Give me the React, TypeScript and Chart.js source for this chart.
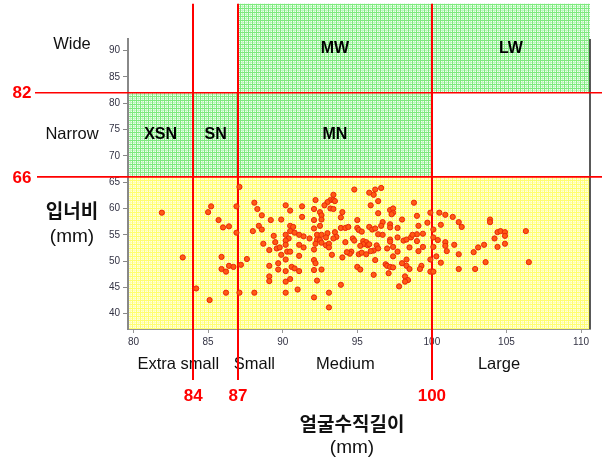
import React, { useEffect, useRef } from 'react';
import { Chart, registerables } from 'chart.js';
Chart.register(...registerables);

// 얼굴수직길이 (mm)
const faceLength = [
  81.9, 83.3, 87.1, 85.2, 85.0, 86.9, 85.7, 86.0, 86.4, 86.9, 87.6, 85.9, 85.9, 86.2, 86.4, 86.7, 87.2, 84.2, 86.2, 87.1, 85.1,
  93.4, 93.2, 93.4, 93.0, 93.5, 92.8, 93.2, 93.4, 92.2, 91.3, 90.2, 90.5, 88.1, 88.3, 88.6, 89.2, 89.9, 92.1, 92.5, 92.6,
  92.6, 91.3, 92.1, 88.0, 88.4, 88.6, 90.5, 90.7, 90.5, 90.2, 90.8, 91.1, 91.4, 91.8, 92.1, 92.5, 92.3, 92.6, 93.0, 93.5,
  93.6, 93.4, 92.9, 92.3, 92.5, 90.4, 90.2, 89.4, 89.5, 88.7, 89.1, 89.6, 89.8, 90.2, 91.1, 91.4, 92.2, 92.6, 92.9, 93.1,
  93.1, 90.3, 90.5, 89.9, 91.1, 92.1, 93.3, 90.2, 92.1, 92.2, 89.7, 89.1, 90.6, 90.8, 91.1, 92.6, 89.7, 90.2, 92.1, 89.1,
  89.1, 90.5, 90.2, 92.3, 88.1, 90.2, 91.0, 93.1, 92.1, 93.1,
  94.8, 95.8, 96.1, 96.2, 96.6, 96.4, 95.9, 98.8, 97.2, 97.4, 97.4, 97.3, 96.4, 94.0, 93.9, 99.0, 99.9, 100.5, 95.0, 98.0,
  96.7, 97.2, 97.2, 96.6, 99.7, 93.9, 94.2, 94.4, 95.0, 95.1, 95.3, 95.8, 96.0, 96.2, 96.4, 96.7, 97.7, 99.1, 99.4, 99.0,
  100.1, 100.4, 94.7, 94.8, 94.2, 95.4, 95.6, 95.4, 95.7, 95.2, 95.8, 96.3, 96.4, 96.1, 95.9, 97.0, 97.4, 97.2, 97.2, 97.7,
  98.1, 98.3, 98.6, 98.7, 99.0, 98.5, 99.1, 99.4, 100.1, 100.1, 94.6, 94.5, 94.3, 94.0, 95.1, 95.3, 95.6, 96.2, 97.4, 97.7,
  96.9, 97.0, 97.2, 97.4, 98.0, 98.3, 98.3, 98.5, 99.3, 99.2, 99.9, 100.3, 99.9, 100.1, 95.0, 95.2, 97.1, 96.1, 98.2, 98.4,
  98.2, 97.8, 93.9,
  100.9, 101.4, 101.8, 102.0, 100.6, 103.9, 103.9, 104.4, 104.6, 104.9, 104.9, 104.2, 106.3, 100.9, 100.9, 101.0, 101.5,
  101.8, 103.5, 103.1, 102.8, 104.4, 104.9, 101.8, 102.9, 103.6, 106.5, 100.6,
];

// 입너비 (mm)
const faceWidth = [
  59.2, 50.7, 64.1, 60.4, 59.3, 60.4, 57.8, 56.4, 56.6, 55.4, 50.4, 50.8, 48.5, 48.0, 49.1, 48.9, 49.3, 44.8, 44.0, 44.0, 42.6,
  62.6, 61.6, 61.6, 61.2, 61.4, 60.6, 60.0, 59.9, 61.6, 60.4, 60.6, 59.6, 61.1, 59.9, 58.7, 57.8, 57.9, 59.9, 59.3, 58.7,
  57.9, 58.4, 57.8, 55.7, 56.7, 56.0, 56.7, 56.5, 55.7, 55.0, 55.4, 55.0, 54.7, 54.3, 56.2, 56.7, 55.0, 55.0, 55.3, 55.5,
  54.6, 54.3, 54.5, 54.1, 54.0, 54.3, 53.9, 54.8, 53.6, 53.3, 52.1, 52.4, 52.6, 53.1, 53.1, 52.6, 53.3, 53.5, 53.0, 53.3,
  52.6, 51.8, 51.8, 51.2, 51.0, 52.2, 51.2, 50.3, 50.2, 49.6, 49.6, 49.1, 48.9, 48.6, 48.1, 48.4, 48.4, 48.1, 48.3, 47.1,
  46.2, 46.6, 46.1, 46.3, 44.0, 44.0, 44.6, 44.0, 43.1, 41.2,
  63.6, 63.0, 62.6, 63.6, 63.9, 61.4, 60.6, 61.1, 59.7, 60.0, 59.2, 58.9, 59.1, 59.3, 58.3, 58.6, 59.2, 59.2, 57.8, 57.9,
  57.4, 57.0, 56.4, 56.7, 57.3, 56.3, 56.3, 56.5, 56.3, 55.9, 55.6, 56.5, 56.0, 56.2, 55.1, 55.0, 56.3, 56.7, 55.2, 55.1,
  56.0, 54.0, 54.3, 53.9, 53.6, 53.8, 53.6, 53.2, 53.0, 52.9, 53.2, 53.0, 52.4, 52.0, 51.9, 52.4, 52.7, 54.1, 53.7, 54.5,
  53.9, 54.1, 54.5, 55.0, 53.8, 52.6, 51.9, 52.7, 54.5, 52.7, 51.8, 51.4, 51.7, 50.7, 51.3, 51.6, 51.3, 50.2, 50.9, 51.8,
  49.4, 49.1, 48.9, 48.8, 49.6, 50.3, 49.1, 48.5, 49.1, 48.5, 50.3, 50.9, 48.0, 48.0, 48.9, 48.4, 47.7, 47.4, 47.1, 46.4,
  46.1, 45.2, 45.5,
  58.8, 58.4, 57.4, 56.5, 56.9, 57.9, 57.4, 55.5, 55.7, 55.5, 54.8, 54.3, 55.7, 53.6, 52.9, 51.9, 53.1,
  51.3, 53.1, 52.6, 51.7, 52.7, 53.3, 48.5, 48.5, 49.8, 49.8, 49.7,
];

const xTickValues = [80, 85, 90, 95, 100, 105, 110];
const yTickValues = [40, 45, 50, 55, 60, 65, 70, 75, 80, 85, 90];

const lengthBreaks = [84, 87, 100];
const widthBreaks = [66, 82];

const sizeNames = ['Extra small', 'Small', 'Medium', 'Large'];
const sizeNameAt = [83.0, 88.1, 94.2, 104.5];

const widthNames = ['Wide', 'Narrow'];
const widthNameAt = [91.2, 74];

const zoneNames = ['XSN', 'SN', 'MN', 'MW', 'LW'];
// [x from, x to, y from, y to]; null = edge of the drawing
const zoneSpans: (number | null)[][] = [
  [null, 84, 66, 82],
  [84, 87, 66, 82],
  [87, 100, 66, 82],
  [87, 100, 82, null],
  [100, null, 82, null],
];

const X_MIN = 79.63;
const X_MAX = 110.6;
const Y_MIN = 37.1;
const Y_MAX = 92.2;
const ZONE_TOP = 98.9;

const SANS = '"Liberation Sans", Arial, sans-serif';
const KR = '"Noto Sans CJK KR", sans-serif';

function makePattern(ctx: CanvasRenderingContext2D, bg: string, line: string, line2: string) {
  const c = document.createElement('canvas');
  c.width = 4;
  c.height = 4;
  const g = c.getContext('2d')!;
  g.fillStyle = bg;
  g.fillRect(0, 0, 4, 4);
  g.fillStyle = line2;
  g.fillRect(0, 2, 4, 1);
  g.fillRect(2, 0, 1, 4);
  g.fillStyle = line;
  g.fillRect(0, 0, 4, 1);
  g.fillRect(0, 0, 1, 4);
  return ctx.createPattern(c, 'repeat')!;
}

export default function App() {
  const ref = useRef<HTMLCanvasElement>(null);

  useEffect(() => {
    const canvas = ref.current!;
    const ctx0 = canvas.getContext('2d')!;
    const green = makePattern(ctx0, '#effff0', '#7eea7e', '#bff6bf');
    const yellow = makePattern(ctx0, '#ffffe2', '#ffff6e', '#ffffb0');

    const plugin = {
      id: 'zones',
      beforeDraw(chart: any) {
        const { ctx, chartArea: a, scales } = chart;
        const x = scales.x, y = scales.y;
        ctx.save();
        const y66 = y.getPixelForValue(widthBreaks[0]);
        ctx.fillStyle = yellow;
        ctx.fillRect(a.left, y66, a.right - a.left, a.bottom - y66);
        ctx.fillStyle = green;
        zoneSpans.forEach((s) => {
          const x0 = x.getPixelForValue(s[0] ?? X_MIN);
          const x1 = x.getPixelForValue(s[1] ?? X_MAX);
          const y0 = y.getPixelForValue(s[2] ?? Y_MIN);
          const y1 = y.getPixelForValue(s[3] ?? ZONE_TOP);
          ctx.fillRect(x0, y1, x1 - x0, y0 - y1);
        });
        ctx.restore();
      },
      beforeDatasetsDraw(chart: any) {
        const { ctx, chartArea: a, scales } = chart;
        const x = scales.x, y = scales.y;
        ctx.save();
        // right frame
        ctx.strokeStyle = '#222';
        ctx.lineWidth = 1.5;
        ctx.beginPath();
        ctx.moveTo(a.right, a.top);
        ctx.lineTo(a.right, a.bottom);
        ctx.stroke();
        // size names
        ctx.fillStyle = '#111';
        ctx.font = `16.5px ${SANS}`;
        ctx.textAlign = 'center';
        ctx.textBaseline = 'middle';
        sizeNames.forEach((n, i) => ctx.fillText(n, x.getPixelForValue(sizeNameAt[i]), a.bottom + 35));
        // red lines
        ctx.strokeStyle = '#ff0000';
        ctx.lineWidth = 2;
        const top = y.getPixelForValue(ZONE_TOP);
        lengthBreaks.forEach((v) => {
          const p = Math.round(x.getPixelForValue(v));
          ctx.beginPath();
          ctx.moveTo(p, top);
          ctx.lineTo(p, a.bottom + 51);
          ctx.stroke();
        });
        ctx.lineWidth = 1.6;
        widthBreaks.forEach((v, i) => {
          const p = y.getPixelForValue(v);
          ctx.beginPath();
          ctx.moveTo(i === 0 ? 37 : 35, p);
          ctx.lineTo(chart.width, p);
          ctx.stroke();
        });
        ctx.restore();
      },
      afterDraw(chart: any) {
        const { ctx, chartArea: a, scales } = chart;
        const x = scales.x, y = scales.y;
        ctx.save();
        ctx.textAlign = 'center';
        ctx.textBaseline = 'middle';
        // zone names
        ctx.fillStyle = '#000';
        ctx.font = `bold 16px ${SANS}`;
        zoneSpans.forEach((s, i) => {
          const x0 = x.getPixelForValue(s[0] ?? X_MIN);
          const x1 = x.getPixelForValue(s[1] ?? X_MAX);
          const y0 = y.getPixelForValue(s[2] ?? Y_MIN);
          const y1 = y.getPixelForValue(s[3] ?? ZONE_TOP);
          ctx.fillText(zoneNames[i], (x0 + x1) / 2, (y0 + y1) / 2);
        });
        // width names
        ctx.fillStyle = '#111';
        ctx.font = `16.5px ${SANS}`;
        widthNames.forEach((n, i) => ctx.fillText(n, 72, y.getPixelForValue(widthNameAt[i])));
        // break labels
        ctx.fillStyle = '#ff0000';
        ctx.font = `bold 17px ${SANS}`;
        widthBreaks.forEach((v) => ctx.fillText(String(v), 22, y.getPixelForValue(v) + 1));
        lengthBreaks.forEach((v) => ctx.fillText(String(v), x.getPixelForValue(v), a.bottom + 67));
        // axis titles
        ctx.fillStyle = '#111';
        ctx.font = `bold 19px ${KR}`;
        ctx.fillText('입너비', 72, 211);
        ctx.fillText('얼굴수직길이', 352, a.bottom + 95);
        ctx.font = `19px ${SANS}`;
        ctx.fillText('(mm)', 72, 237);
        ctx.fillText('(mm)', 352, a.bottom + 119);
        ctx.restore();
      },
    };

    const chart = new Chart(canvas, {
      type: 'scatter',
      data: {
        datasets: [
          {
            data: faceLength.map((v, i) => ({ x: v, y: faceWidth[i] })),
            backgroundColor: '#ff5a14',
            borderColor: '#e8280a',
            borderWidth: 1,
            pointRadius: 2.6,
          },
        ],
      },
      options: {
        responsive: false,
        animation: false,
        devicePixelRatio: 1,
        layout: { padding: { left: 98, top: 39, right: 12, bottom: 109 } },
        plugins: { legend: { display: false }, tooltip: { enabled: false } },
        scales: {
          x: {
            type: 'linear',
            min: X_MIN,
            max: X_MAX,
            afterBuildTicks: (s: any) => {
              s.ticks = xTickValues.map((v) => ({ value: v }));
            },
            afterFit: (s: any) => {
              s.height = 24;
            },
            grid: { display: true, drawOnChartArea: false, drawTicks: true, tickLength: 4, color: '#999' },
            border: { display: true, color: '#999', width: 1 },
            ticks: { font: { family: SANS, size: 10 }, color: '#333344', padding: 3, maxRotation: 0, autoSkip: false },
          },
          y: {
            type: 'linear',
            min: Y_MIN,
            max: Y_MAX,
            afterBuildTicks: (s: any) => {
              s.ticks = yTickValues.map((v) => ({ value: v }));
            },
            afterFit: (s: any) => {
              s.width = 30;
            },
            grid: { display: true, drawOnChartArea: false, drawTicks: true, tickLength: 5, color: '#888' },
            border: { display: true, color: '#888', width: 2 },
            ticks: { font: { family: SANS, size: 10 }, color: '#333344', padding: 3, autoSkip: false },
          },
        },
      },
      plugins: [plugin],
    } as any);

    return () => chart.destroy();
  }, []);

  return (
    <div style={{ position: 'fixed', left: 0, top: 0, width: 602, height: 462, background: '#fff' }}>
      <canvas ref={ref} width={602} height={462} style={{ width: 602, height: 462, display: 'block' }} />
    </div>
  );
}
